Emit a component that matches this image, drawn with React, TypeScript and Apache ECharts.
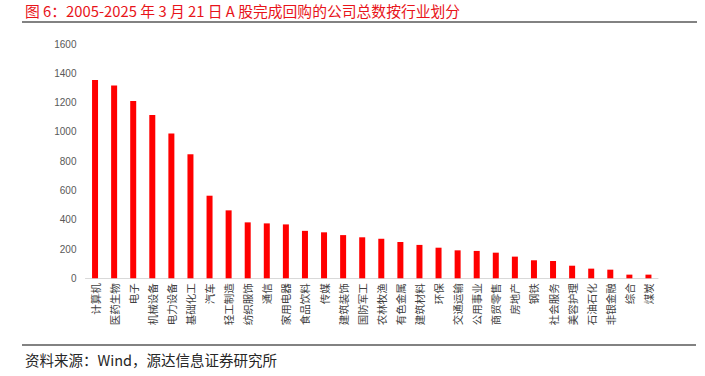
import React, { useEffect, useRef } from "react";
import * as echarts from "echarts";

const categories = [
  "计算机", "医药生物", "电子", "机械设备", "电力设备", "基础化工", "汽车", "轻工制造",
  "纺织服饰", "通信", "家用电器", "食品饮料", "传媒", "建筑装饰", "国防军工", "农林牧渔",
  "有色金属", "建筑材料", "环保", "交通运输", "公用事业", "商贸零售", "房地产", "钢铁",
  "社会服务", "美容护理", "石油石化", "非银金融", "综合", "煤炭",
];
const companyCounts = [
  1355, 1316, 1211, 1116, 988, 847, 564, 464,
  382, 375, 368, 324, 314, 295, 280, 270,
  248, 228, 209, 191, 187, 175, 148, 123,
  118, 86, 66, 59, 25, 25,
];
const yTicks = { min: 0, max: 1600, interval: 200 };

const titleText = "图 6：2005-2025 年 3 月 21 日 A 股完成回购的公司总数按行业划分";
const sourceText = "资料来源：Wind，源达信息证券研究所";

export default function App() {
  const ref = useRef<HTMLDivElement>(null);
  useEffect(() => {
    if (!ref.current) return;
    const chart = echarts.init(ref.current, null, { renderer: "svg" });
    const font = "'Noto Sans CJK SC', 'Noto Sans', sans-serif";
    chart.setOption({
      animation: false,
      backgroundColor: "#ffffff",
      textStyle: { fontFamily: font },
      grid: { left: 85.5, right: 47, top: 44, bottom: 97.7, containLabel: false },
      xAxis: {
        type: "category",
        data: categories,
        axisTick: { show: false },
        axisLine: { lineStyle: { color: "#d9d9d9", width: 1 } },
        axisLabel: {
          interval: 0,
          rotate: 90,
          margin: 5,
          color: "#404040",
          fontSize: 10.5,
          fontFamily: font,
        },
      },
      yAxis: {
        type: "value",
        min: yTicks.min,
        max: yTicks.max,
        interval: yTicks.interval,
        axisLine: { show: false },
        axisTick: { show: false },
        splitLine: { show: false },
        axisLabel: {
          color: "#595959",
          fontSize: 10,
          margin: 9,
          fontFamily: "'Liberation Sans', 'Noto Sans', sans-serif",
          formatter: (v: number) => String(v),
        },
      },
      series: [
        {
          type: "bar",
          data: companyCounts,
          barWidth: 6,
          itemStyle: { color: "#ff0000" },
        },
      ],
      graphic: [
        {
          type: "text",
          left: 25,
          top: 3,
          style: { text: titleText, fill: "#e8141a", font: `14.8px ${font}` },
        },
        {
          type: "line",
          shape: { x1: 22, y1: 22, x2: 697, y2: 22 },
          style: { stroke: "#595959", lineWidth: 1.5 },
        },
        {
          type: "line",
          shape: { x1: 22, y1: 345, x2: 696, y2: 345 },
          style: { stroke: "#595959", lineWidth: 1.5 },
        },
        {
          type: "text",
          left: 25,
          top: 352,
          style: { text: sourceText, fill: "#262626", font: `14.5px ${font}` },
        },
      ],
    });
    return () => chart.dispose();
  }, []);
  return (
    <div
      ref={ref}
      style={{ position: "fixed", left: 0, top: 0, width: 705, height: 376, background: "#fff" }}
    />
  );
}
